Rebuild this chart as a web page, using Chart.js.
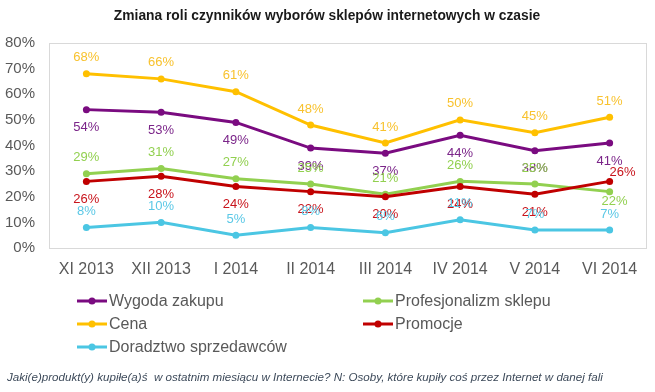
<!DOCTYPE html>
<html><head><meta charset="utf-8">
<script src="https://cdn.jsdelivr.net/npm/chart.js@4"></script>
<style>html,body{margin:0;padding:0;background:#fff}#wrap{width:655px;height:392px;position:relative}</style>
</head><body><div id="wrap"><canvas id="c" width="655" height="392"></canvas></div>
<script>
const categories = ['XI 2013','XII 2013','I 2014','II 2014','III 2014','IV 2014','V 2014','VI 2014'];
const wygoda = [54,53,49,39,37,44,38,41];
const profesjonalizm = [29,31,27,25,21,26,25,22];
const cena = [68,66,61,48,41,50,45,51];
const promocje = [26,28,24,22,20,24,21,26];
const doradztwo = [8,10,5,8,6,11,7,7];
const yTicks = [0,10,20,30,40,50,60,70,80];
const seriesNames = ['Wygoda zakupu','Profesjonalizm sklepu','Cena','Promocje','Doradztwo sprzedawców'];
const title = 'Zmiana roli czynników wyborów sklepów internetowych w czasie';
const footnote = 'Jaki(e)produkt(y) kupiłe(a)ś  w ostatnim miesiącu w Internecie? N: Osoby, które kupiły coś przez Internet w danej fali';

const colors = ['#7A0B80','#92D050','#FFC000','#C00000','#4BC6E3'];
const labelColors = ['#7B2589','#92D050','#F8C22E','#C8141C','#5BC8E6'];
const labelSide = ['below','above','above','below','above'];

function ds(i, data){
  return {label: seriesNames[i], data, borderColor: colors[i], backgroundColor: colors[i],
    borderWidth: 3, pointRadius: 3.5, pointHoverRadius: 3.5, pointBackgroundColor: colors[i],
    pointBorderWidth: 0, tension: 0, order: [3,2,4,1,0][i]};
}

const framePlugin = {
  id: 'frame',
  beforeDatasetsDraw(chart){
    const {ctx, chartArea: a} = chart;
    ctx.save(); ctx.strokeStyle = '#D9D9D9'; ctx.lineWidth = 1;
    ctx.strokeRect(Math.round(a.left)+0.5, Math.round(a.top)+0.5, Math.round(a.right-a.left)-1, Math.round(a.bottom-a.top));
    ctx.restore();
  }
};

const labelsPlugin = {
  id: 'dlabels',
  afterDatasetsDraw(chart){
    const ctx = chart.ctx;
    ctx.save();
    ctx.font = '13px "Liberation Sans", Arial, sans-serif';
    ctx.textAlign = 'center'; ctx.textBaseline = 'middle';
    chart.data.datasets.forEach((d, i) => {
      const meta = chart.getDatasetMeta(i);
      ctx.fillStyle = labelColors[i];
      const last = d.data.length - 1;
      meta.data.forEach((pt, j) => {
        let x = pt.x, y = pt.y;
        if (i === 3 && j === last) { x += 13; y -= 9; }
        else if (i === 1 && j === last) { x += 5; y += 10; }
        else y += labelSide[i] === 'above' ? -16 : 18;
        ctx.fillText(d.data[j] + '%', x, y);
      });
    });
    ctx.restore();
  }
};

const textPlugin = {
  id: 'texts',
  afterDraw(chart){
    const ctx = chart.ctx;
    ctx.save();
    ctx.fillStyle = '#1a1a1a';
    ctx.font = 'bold 13.8px "Liberation Sans", Arial, sans-serif';
    ctx.textAlign = 'center'; ctx.textBaseline = 'middle';
    ctx.fillText(title, 327, 16);
    const cols = [77, 363], rows = [301, 324, 347];
    ctx.font = '16px "Liberation Sans", Arial, sans-serif';
    ctx.textAlign = 'left';
    chart.data.datasets.forEach((d, k) => {
      const x = cols[k % 2], y = rows[Math.floor(k / 2)];
      const c = d.borderColor;
      ctx.strokeStyle = c; ctx.lineWidth = 3;
      ctx.beginPath(); ctx.moveTo(x, y); ctx.lineTo(x + 30, y); ctx.stroke();
      ctx.fillStyle = c; ctx.beginPath(); ctx.arc(x + 15, y, 3.5, 0, Math.PI*2); ctx.fill();
      ctx.fillStyle = '#595959';
      ctx.fillText(d.label, x + 32, y + 1);
    });
    ctx.font = 'italic 11.6px "Liberation Sans", Arial, sans-serif';
    ctx.fillStyle = '#3d4a5a';
    ctx.fillText(footnote, 7, 378);
    ctx.restore();
  }
};

new Chart(document.getElementById('c'), {
  type: 'line',
  data: { labels: categories, datasets: [ds(0,wygoda), ds(1,profesjonalizm), ds(2,cena), ds(3,promocje), ds(4,doradztwo)] },
  options: {
    responsive: false, animation: false, devicePixelRatio: 1,
    layout: { padding: { top: 43, right: 8, left: 0, bottom: 0 } },
    plugins: { legend: { display: false }, title: { display: false }, tooltip: { enabled: false } },
    scales: {
      x: { offset: true, grid: { display: false, drawTicks: false }, border: { display: false },
        ticks: { padding: 12, color: '#595959', font: { size: 16, family: '"Liberation Sans", Arial, sans-serif' }, maxRotation: 0 },
        afterFit(s){ s.height = 144; } },
      y: { min: 0, max: 80, grid: { display: false, drawTicks: false }, border: { display: false },
        afterBuildTicks(s){ s.ticks = yTicks.map(v => ({value: v})); },
        ticks: { padding: 14, color: '#595959', font: { size: 15, family: '"Liberation Sans", Arial, sans-serif' }, callback: v => v + '%' },
        afterFit(s){ s.width = 49; } }
    }
  },
  plugins: [framePlugin, labelsPlugin, textPlugin]
});
</script></body></html>
